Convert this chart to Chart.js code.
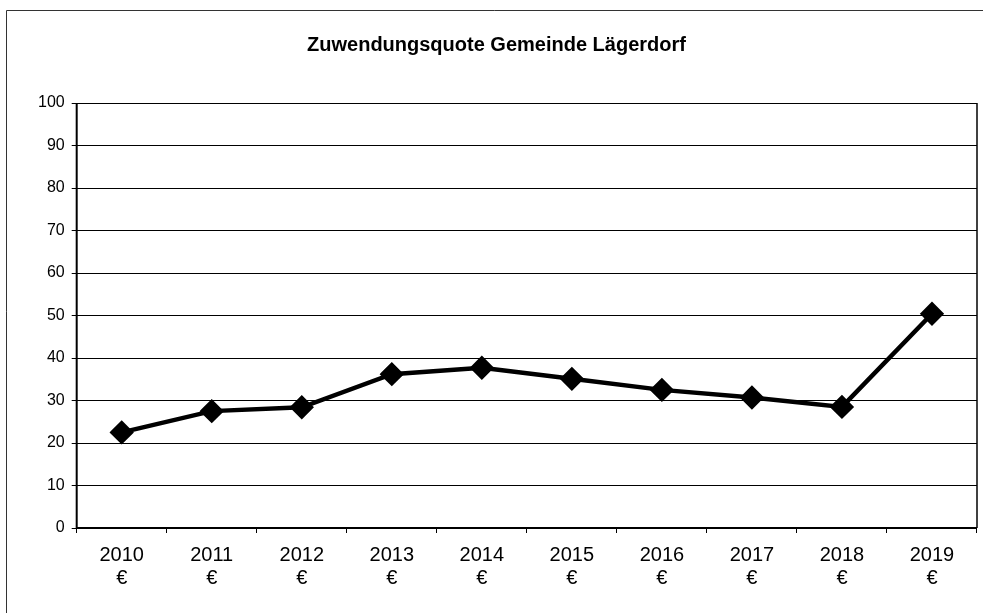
<!DOCTYPE html>
<html><head><meta charset="utf-8">
<script src="https://cdn.jsdelivr.net/npm/chart.js@4"></script>
<style>html,body{margin:0;padding:0;background:#fff;overflow:hidden}#wrap{width:983px;height:613px;position:relative}</style>
</head><body><div id="wrap"><canvas id="c"></canvas></div>
<script>
const title = "Zuwendungsquote Gemeinde Lägerdorf";
const years = ["2010","2011","2012","2013","2014","2015","2016","2017","2018","2019"];
const unit = "€";
const quote = [22.5, 27.5, 28.4, 36.2, 37.7, 35.1, 32.5, 30.7, 28.5, 50.4];
const yTicks = [0,10,20,30,40,50,60,70,80,90,100];

const frame = {
  id:'frame',
  beforeDraw(chart){
    const c = chart.ctx;
    c.save(); c.fillStyle='#fff'; c.fillRect(0,0,chart.width,chart.height);
    c.strokeStyle='#333'; c.lineWidth=1;
    c.beginPath(); c.moveTo(6.5,613); c.lineTo(6.5,10.5); c.lineTo(983,10.5); c.stroke();
    c.restore();
  },
  beforeDatasetsDraw(chart){
    const a = chart.chartArea, c = chart.ctx;
    c.save(); c.strokeStyle='#000';
    c.lineWidth=1.5; c.beginPath(); c.moveTo(a.right, a.top); c.lineTo(a.right, a.bottom); c.stroke();
    c.lineWidth=2; c.beginPath(); c.moveTo(a.left, a.top); c.lineTo(a.left, a.bottom); c.lineTo(a.right,a.bottom); c.stroke();
    c.restore();
  }
};

new Chart(document.getElementById('c'), {
  type:'line',
  data:{
    labels: years.map(y => [y, unit]),
    datasets:[{
      data: quote,
      borderColor:'#000', backgroundColor:'#000', borderWidth:4.5,
      pointStyle:'rectRot', pointRadius:9, pointHoverRadius:9,
      pointBackgroundColor:'#000', pointBorderColor:'#000', tension:0
    }]
  },
  options:{
    responsive:true, maintainAspectRatio:false, animation:false,
    layout:{autoPadding:false, padding:{left:16, right:6, top:27, bottom:12}},
    plugins:{
      legend:{display:false}, tooltip:{enabled:false},
      title:{display:true, text:title, color:'#000',
        font:{family:'Liberation Sans, Arial, sans-serif', size:20, weight:'bold'},
        padding:{top:6, bottom:46}}
    },
    scales:{
      x:{
        offset:true,
        grid:{offset:true, drawOnChartArea:false, drawTicks:true, tickLength:5, color:'#000'},
        border:{display:false},
        ticks:{color:'#000', padding:11, maxRotation:0,
          font:{family:'Liberation Sans, Arial, sans-serif', size:20, lineHeight:1.15}}
      },
      y:{
        min:0, max:100,
        afterBuildTicks(ax){ ax.ticks = yTicks.map(v=>({value:v})); },
        afterFit(ax){ ax.width += 15; },
        grid:{color:'#000', lineWidth:1, tickLength:5},
        border:{display:false},
        ticks:{color:'#000', padding:7,
          font:{family:'Liberation Sans, Arial, sans-serif', size:16}}
      }
    }
  },
  plugins:[frame]
});
</script></body></html>
